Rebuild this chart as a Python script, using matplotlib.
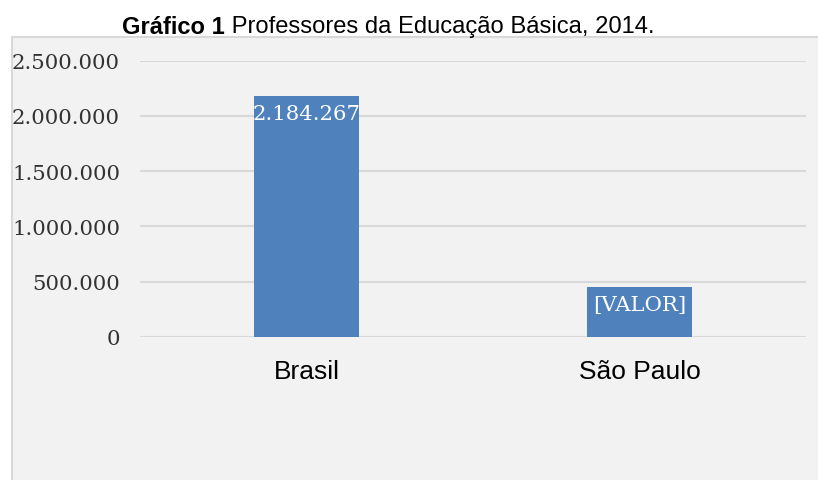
import matplotlib
matplotlib.use("Agg")
import matplotlib.pyplot as plt
from matplotlib.patches import Rectangle
from matplotlib.ticker import FuncFormatter

categories = ["Brasil", "São Paulo"]
values = [2184267, 452000]
labels = ["2.184.267", "[VALOR]"]
yticks = [0, 500000, 1000000, 1500000, 2000000, 2500000]

W, H = 818, 481
fig = plt.figure(figsize=(W / 100, H / 100), dpi=100)
fig.patch.set_facecolor("white")

# gray chart frame
frame = Rectangle((12 / W, -0.05), 1.1, (H - 38) / H + 0.05, transform=fig.transFigure,
                  facecolor="#F2F2F2", edgecolor="#D9D9D9", linewidth=1.5, zorder=-10)
fig.patches.append(frame)

ax = fig.add_axes([140 / W, (H - 337.7) / H, (806 - 140) / W, 276 / H])
ax.set_zorder(1)
ax.set_facecolor("none")
x = list(range(len(categories)))
bars = ax.bar(x, values, width=0.317, color="#4F81BD", zorder=3)
ax.set_xlim(-0.5, 1.5)
ax.set_ylim(0, 2500000)
ax.set_yticks(yticks)
ax.yaxis.set_major_formatter(FuncFormatter(lambda v, p: f"{int(v):,}".replace(",", ".")))
ax.set_xticks(x)
ax.set_xticklabels(categories, fontsize=19, family="Liberation Sans", color="#000000")
for t in ax.get_yticklabels():
    t.set_family("DejaVu Serif")
    t.set_fontsize(15.3)
    t.set_color("#333333")
ax.tick_params(axis="y", length=0, pad=14.4)
ax.tick_params(axis="x", length=0, pad=16)
ax.grid(axis="y", color="#D9D9D9", linewidth=1.5, zorder=1)
for s in ax.spines.values():
    s.set_visible(False)

for b, lab in zip(bars, labels):
    ax.annotate(lab, xy=(b.get_x() + b.get_width() / 2, b.get_height()),
                xytext=(0, -6), textcoords="offset points", ha="center", va="top",
                color="white", fontsize=15.3, family="DejaVu Serif", zorder=4)

t1 = fig.text(122 / W, (H - 33.5) / H, "Gráfico 1", fontsize=17.1, fontweight="bold",
              family="Liberation Sans", ha="left", va="baseline")
ax.annotate(" Professores da Educação Básica, 2014.", xy=(1, 0), xycoords=t1,
            ha="left", va="bottom", fontsize=17.1, family="Liberation Sans",
            annotation_clip=False)

fig.savefig("out.png", dpi=100)
